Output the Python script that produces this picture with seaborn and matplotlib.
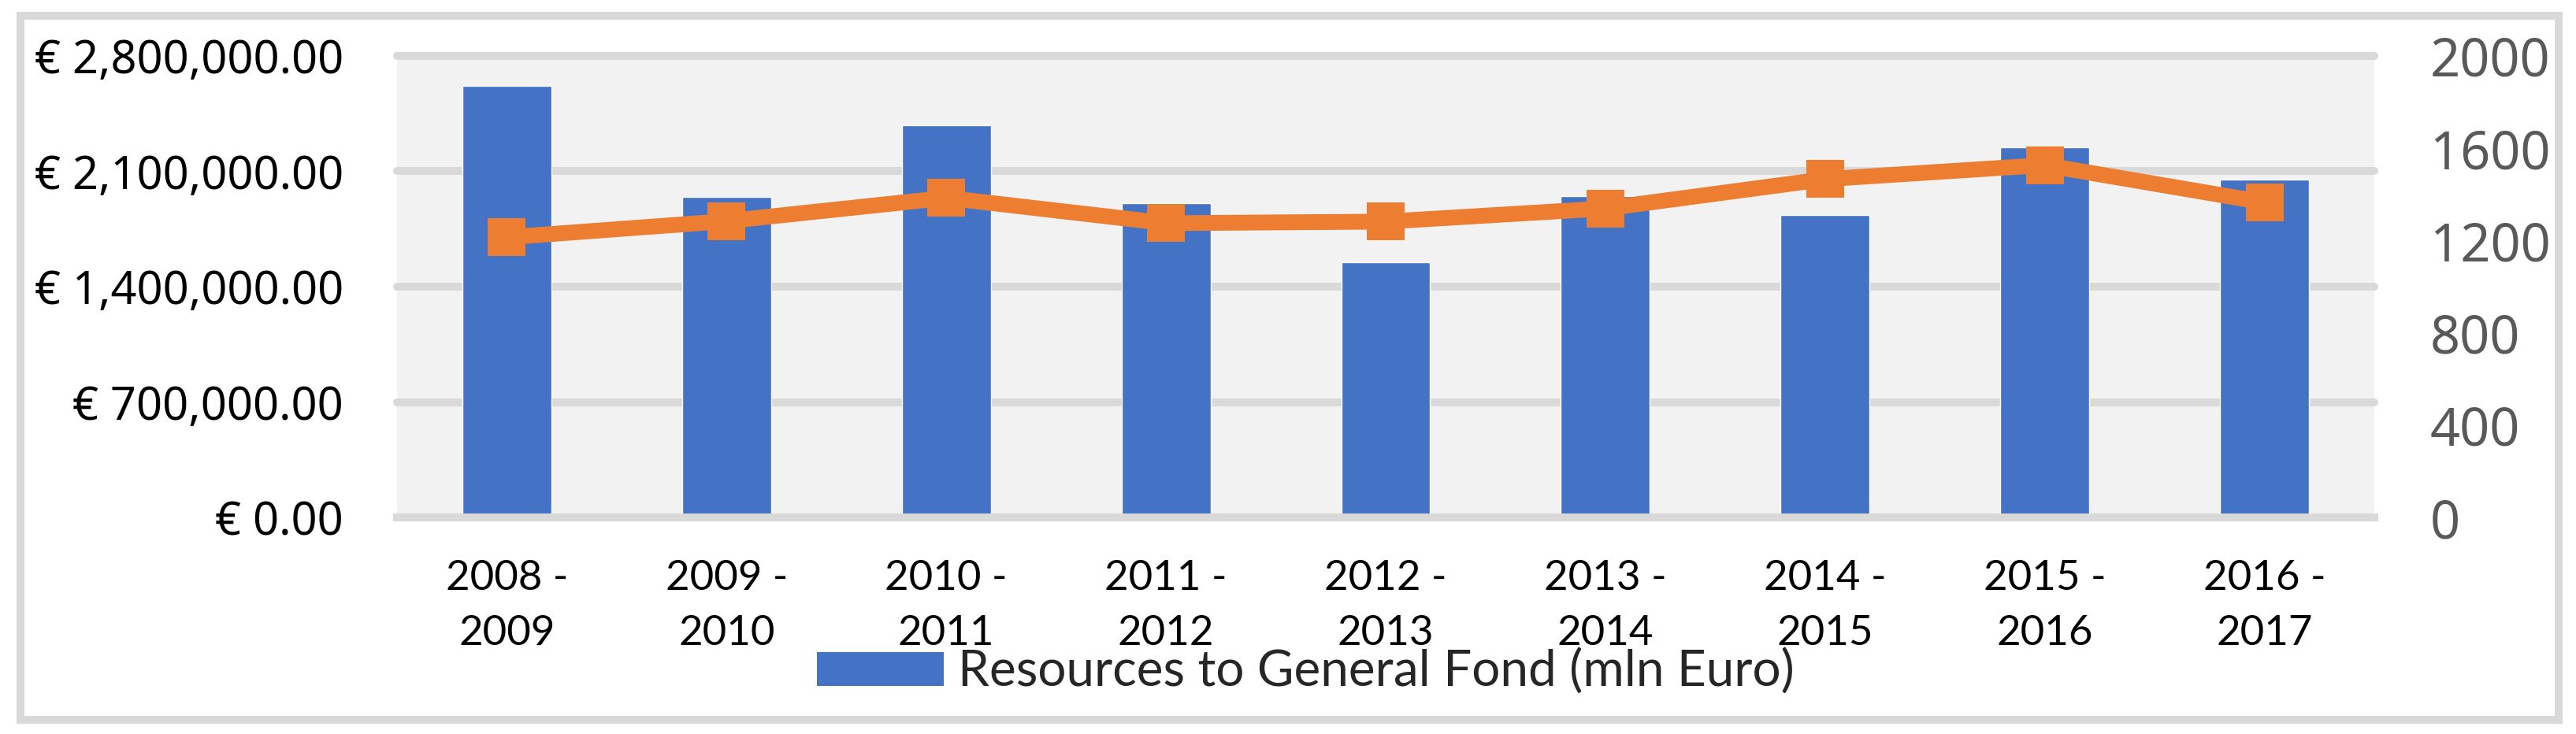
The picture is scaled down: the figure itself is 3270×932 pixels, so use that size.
import matplotlib
matplotlib.use("Agg")
import matplotlib.pyplot as plt
from matplotlib.patches import Rectangle, Patch
import seaborn as sns
import pandas as pd

# ---- data ----
periods = ["2008 -\n2009", "2009 -\n2010", "2010 -\n2011", "2011 -\n2012", "2012 -\n2013",
           "2013 -\n2014", "2014 -\n2015", "2015 -\n2016", "2016 -\n2017"]
resources = [2618000, 1943000, 2379000, 1905000, 1546000, 1948000, 1833000, 2245000, 2049000]
line_values = [1214, 1284, 1385, 1275, 1282, 1339, 1466, 1527, 1365]
left_ticks = [0, 700000, 1400000, 2100000, 2800000]
left_labels = ["€ 0.00", "€ 700,000.00", "€ 1,400,000.00", "€ 2,100,000.00", "€ 2,800,000.00"]
right_ticks = [0, 400, 800, 1200, 1600, 2000]
right_labels = ["0", "400", "800", "1200", "1600", "2000"]
legend_label = "Resources to General Fond (mln Euro)"

BLUE = "#4472C4"
ORANGE = "#ED7D31"
GRID = "#D9D9D9"

sns.set_theme(style="white")
plt.rcParams["font.family"] = ["Lato", "DejaVu Sans"]

W, H = 3270, 932
fig = plt.figure(figsize=(W / 100, H / 100), dpi=100)
fig.patch.set_facecolor("white")

ax = fig.add_axes([504 / W, (H - 657) / H, (3014 - 504) / W, (657 - 71) / H])
ax.set_facecolor("#F2F2F2")

df = pd.DataFrame({"period": periods, "resources": resources})
sns.barplot(data=df, x="period", y="resources", color=BLUE, saturation=1,
            width=0.405, ax=ax, zorder=2)
ax.set_ylim(0, 2800000)
ax.set_xlim(-0.5, len(periods) - 0.5)
ax.set_yticks(left_ticks, labels=left_labels, fontfamily="Noto Sans", fontsize=41.5,
              color="black")
ax.set_xlabel("")
ax.set_ylabel("")
ax.yaxis.grid(True, color=GRID, linewidth=7.2)
ax.xaxis.grid(False)
ax.set_axisbelow(True)
for gl in ax.get_ygridlines():
    gl.set_clip_on(False)
for s in ["top", "left", "right"]:
    ax.spines[s].set_visible(False)
ax.spines["bottom"].set_color(GRID)
ax.spines["bottom"].set_linewidth(7.2)
ax.spines["bottom"].set_zorder(3)

ax.tick_params(axis="y", length=0, pad=49)
ax.tick_params(axis="x", length=0, pad=39, labelsize=38, labelcolor="black")
for t in ax.get_xticklabels():
    t.set_linespacing(1.6)

ax2 = ax.twinx()
sns.pointplot(x=periods, y=line_values, ax=ax2, color=ORANGE, markers="s",
              errorbar=None, markersize=34.5, linewidth=14.4, markeredgewidth=0)
ax2.set_ylim(0, 2000)
ax2.set_xlim(-0.5, len(periods) - 0.5)
ax2.set_yticks(right_ticks, labels=right_labels, fontfamily="Noto Sans", fontsize=48,
               color="#595959")
ax2.set_ylabel("")
ax2.set_xlabel("")
for s in ax2.spines.values():
    s.set_visible(False)
ax2.grid(False)
ax2.tick_params(axis="y", length=0, pad=51)

fig.legend([Patch(facecolor=BLUE, edgecolor="none")], [legend_label],
           loc="center", bbox_to_anchor=(1657 / W, (H - 853) / H), frameon=False,
           fontsize=46, handlelength=2.52, handleheight=0.66, handletextpad=0.28)

fig.patches.append(Rectangle((26 / W, (H - 914) / H), (3247.5 - 26) / W, (914 - 20) / H,
                             transform=fig.transFigure, fill=False, edgecolor=GRID,
                             linewidth=7.2, zorder=0))

fig.savefig("out.png", dpi=100, facecolor="white")
